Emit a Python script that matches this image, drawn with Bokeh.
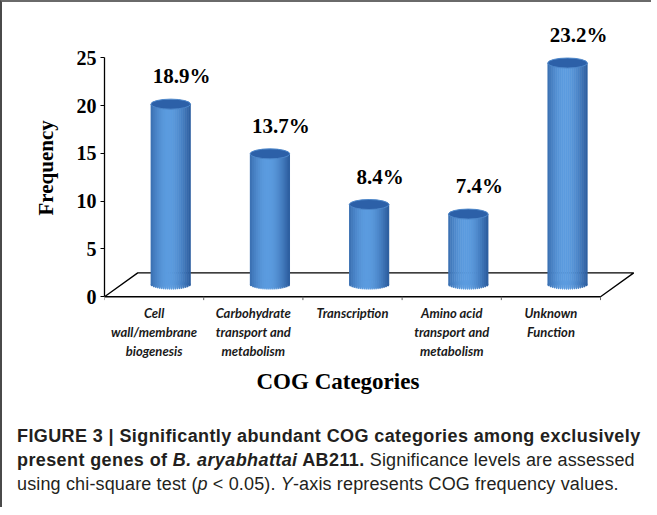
import numpy as np
from bokeh.plotting import figure
from bokeh.models import FixedTicker, Range1d, Div, Column, ColumnDataSource, Title
from bokeh.core.properties import value
from bokeh.embed import file_html
from bokeh.resources import INLINE

# ---- data ----
categories = ["Cell\nwall/membrane\nbiogenesis",
              "Carbohydrate\ntransport and\nmetabolism",
              "Transcription",
              "Amino acid\ntransport and\nmetabolism",
              "Unknown\nFunction"]
frequency = [18.9, 13.7, 8.4, 7.4, 23.2]
pct_labels = ["18.9%", "13.7%", "8.4%", "7.4%", "23.2%"]
y_ticks = [0, 5, 10, 15, 20, 25]

# ---- 3D styling constants ----
DX = 0.335      # depth offset along x (category units)
DY = 2.5        # depth offset along y (value units)
BASE = DY / 2   # bars stand at mid depth
HALF_W = 0.2
N_STRIPS = 20
DARK = np.array([36, 82, 146])
LIGHT = np.array([92, 156, 224])

n = len(categories)
idx = np.arange(n)
freq = np.array(frequency)

p = figure(width=639, height=405,
           x_range=Range1d(-0.5, 4.913), y_range=Range1d(-0.6, 28.69),
           output_backend="svg", toolbar_location=None,
           min_border_left=102, min_border_right=0,
           min_border_top=20, min_border_bottom=105)
p.outline_line_color = None
p.xgrid.grid_line_color = None
p.ygrid.grid_line_color = None
p.background_fill_color = "white"
p.border_fill_color = "white"

# floor
p.patch(x=[-0.5, n - 0.5, n - 0.5 + DX, -0.5 + DX], y=[0, 0, DY, DY],
        fill_color="white", line_color="black", line_width=1.3)
bounds = np.arange(n + 1) - 0.5
p.segment(x0=bounds, y0=0, x1=bounds, y1=-0.35, line_color="#666", line_width=1)

# cylinders built from vertical strips
u = np.linspace(-1 + 1.0 / N_STRIPS, 1 - 1.0 / N_STRIPS, N_STRIPS)
t = np.clip(np.cos((u + 0.1) * np.pi / 2.4), 0, 1)
cols = ["#%02x%02x%02x" % tuple((DARK + (LIGHT - DARK) * tt).astype(int)) for tt in t]
sx, stop, scol, sh = [], [], [], []
for i in range(n):
    for j in range(N_STRIPS):
        sx.append(i + DX / 2 + u[j] * HALF_W)
        stop.append(BASE + freq[i])
        scol.append(cols[j])
        sh.append(10 * np.sqrt(max(1 - u[j] ** 2, 0.0)))
src = ColumnDataSource(dict(x=sx, top=stop, color=scol, h=sh))
sw = 2 * HALF_W / N_STRIPS * 1.25
p.vbar(x="x", top="top", bottom=BASE, width=sw, fill_color="color", line_color=None, source=src)
p.ellipse(x="x", y=BASE, width=sw, height="h", height_units="screen",
          fill_color="color", line_color=None, source=src)
p.ellipse(x=idx + DX / 2, y=BASE + freq, width=2 * HALF_W, height=10, height_units="screen",
          fill_color="#2c60a8", line_color="#4d87ca", line_width=1)

# percentage labels
p.text(x=idx + DX / 2, y=BASE + freq, text=pct_labels, x_offset=11, y_offset=-28,
       text_align="center", text_baseline="middle",
       text_font=value("Liberation Serif"), text_font_style="bold",
       text_font_size="21px", text_color="black")

# y axis
ya = p.yaxis[0]
ya.ticker = FixedTicker(ticks=y_ticks)
ya.bounds = (0, 25)
ya.minor_tick_line_color = None
ya.major_tick_in = 0
ya.major_tick_out = 4
ya.axis_line_color = "black"
ya.axis_line_width = 1.3
ya.major_tick_line_color = "black"
ya.major_label_standoff = 4
ya.major_label_text_font = "Liberation Serif"
ya.major_label_text_font_style = "bold"
ya.major_label_text_font_size = "20px"
ya.major_label_text_color = "black"

# x axis (category labels)
xa = p.xaxis[0]
xa.ticker = FixedTicker(ticks=list(range(n)))
xa.major_label_overrides = {i: c for i, c in enumerate(categories)}
xa.axis_line_color = None
xa.major_tick_line_color = None
xa.minor_tick_line_color = None
xa.major_tick_in = 0
xa.major_tick_out = 0
xa.major_label_standoff = 2
xa.major_label_text_font = "Lato"
xa.major_label_text_font_style = "bold italic"
xa.major_label_text_font_size = "13px"
xa.major_label_text_color = "#1a1a1a"
xa.major_label_text_line_height = 1.2

# axis titles as side titles (positioned along the axis)
p.add_layout(Title(text="COG Categories", align="left", offset=152, standoff=11,
                   text_font="Liberation Serif", text_font_style="bold",
                   text_font_size="23px", text_color="black"), "below")
p.add_layout(Title(text="Frequency", align="left", offset=87, standoff=32,
                   text_font="Liberation Serif", text_font_style="bold",
                   text_font_size="21px", text_color="black"), "left")

caption_html = (
    '<div style="font-family:\'Liberation Sans\',Arial,sans-serif;font-size:18px;'
    'line-height:24px;color:#231f20;white-space:nowrap;padding-left:10px;padding-top:12px;'
    'letter-spacing:0.15px">'
    '<b style="letter-spacing:0.4px">FIGURE 3 | Significantly abundant COG categories among exclusively<br>'
    'present genes of <i>B. aryabhattai</i> AB211.</b> Significance levels are assessed<br>'
    'using chi-square test (<i>p</i> &lt; 0.05). <i>Y</i>-axis represents COG frequency values.'
    '</div>'
)
cap = Div(text=caption_html, width=639, height=90)

layout = Column(p, cap, styles={"border-left": "2px solid #4a4a4a", "border-top": "2px solid #6a6a6a"})

open("out.html", "w").write(file_html(layout, INLINE))
